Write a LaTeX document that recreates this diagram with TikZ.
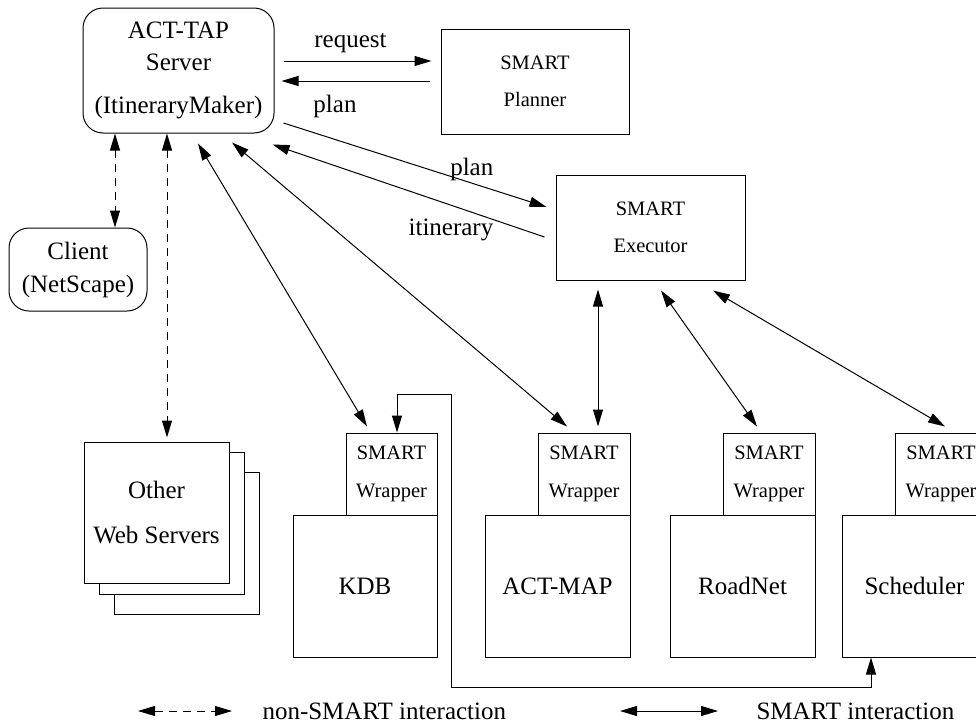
\documentclass[tikz,border=0pt]{standalone}
\usepackage{fontspec}
\setmainfont{Liberation Serif}
\usetikzlibrary{arrows.meta}

\newcommand{\bigsz}{\fontsize{25}{32}\selectfont}
\newcommand{\smallsz}{\fontsize{20.5}{37.5}\selectfont}

\begin{document}
\begin{tikzpicture}[x=1pt, y=-1pt, line width=1pt,
    >={Triangle[length=17pt,width=10pt]},
    every node/.style={font=\bigsz, align=center, inner sep=0pt},
    rbox/.style={draw, rounded corners=20pt},
    box/.style={draw, fill=white},
    wrapbox/.style={box, font=\smallsz, minimum width=92pt, minimum height=82pt},
    appbox/.style={box, minimum width=145pt, minimum height=142pt},
    smartlink/.style={<->},
    weblink/.style={<->, dash pattern=on 8pt off 6pt}]
\useasboundingbox (0,0) rectangle (976,723);
\clip (0,0) rectangle (976,723);

\node (server) [rbox, minimum width=191pt, minimum height=125pt] at (178.5,70.5) {ACT-TAP\\Server\\[11pt](ItineraryMaker)};
\node (planner) [box, font=\smallsz, minimum width=188pt, minimum height=105pt] at (535,81.5) {SMART\\Planner};
\node (executor) [box, font=\smallsz, minimum width=189pt, minimum height=105pt] at (650.5,227.5) {SMART\\Executor};
\node (client) [rbox, minimum width=138pt, minimum height=83pt] at (78,269.5) {Client\\[1pt](NetScape)};

\node (web3) [box, minimum width=145pt, minimum height=142pt] at (186.5,543) {};
\node (web2) [box, minimum width=145pt, minimum height=142pt] at (171.5,523) {};
\node (web1) [box, minimum width=145pt, minimum height=141pt] at (156.5,512.5) {Other\\[13pt]Web Servers};

\node (kdb) [appbox, minimum width=144pt] at (365,586) {KDB};
\node (kdbw) [wrapbox, minimum width=91pt] at (391.5,474) {SMART\\Wrapper};
\node (map) [appbox] at (557.5,586) {ACT-MAP};
\node (mapw) [wrapbox] at (584,474) {SMART\\Wrapper};
\node (road) [appbox] at (742.5,586) {RoadNet};
\node (roadw) [wrapbox] at (769,474) {SMART\\Wrapper};
\node (sched) [appbox] at (914.5,586) {Scheduler};
\node (schedw) [wrapbox] at (941,474) {SMART\\Wrapper};

\draw[->] ([xshift=9pt,yshift=9.5pt]server.east) -- node[xshift=-7pt,yshift=18pt]{request} ([xshift=-9pt,yshift=20.5pt]planner.west);
\draw[->] ([xshift=-11pt,yshift=0.5pt]planner.west) -- node[xshift=-20.5pt,yshift=-25pt]{plan} ([xshift=7pt,yshift=-10.5pt]server.east);
\draw[->] ([xshift=9pt,yshift=-52.5pt]server.east) -- node[pos=0.716,yshift=14pt]{plan} ([xshift=-9pt,yshift=20.5pt]executor.west);
\draw[->] ([xshift=-11pt,yshift=-9.5pt]executor.west) -- node[pos=0.344,yshift=-25pt]{itinerary} ([xshift=-2pt,yshift=-11pt]server.south east);

\draw[weblink] ([xshift=-63.5pt]server.south) -- ([xshift=37pt]client.north);
\draw[weblink] ([xshift=-11.5pt]server.south) -- ([xshift=10.5pt,yshift=4pt]web1.north);

\draw[smartlink] ([xshift=19.5pt,yshift=-10pt]server.south) -- ([xshift=-24.5pt,yshift=6pt]kdbw.north);
\draw[smartlink] ([xshift=53.5pt,yshift=-9pt]server.south) -- ([xshift=-17pt,yshift=6pt]mapw.north);
\draw[smartlink] ([xshift=-52.5pt,yshift=-9pt]executor.south) -- ([xshift=14pt,yshift=6pt]mapw.north);
\draw[smartlink] ([xshift=10.5pt,yshift=-10pt]executor.south) -- ([xshift=-12pt,yshift=6pt]roadw.north);
\draw[smartlink] ([xshift=62.5pt,yshift=-10pt]executor.south) -- ([xshift=4pt,yshift=6pt]schedw.north);

\coordinate (loop) at (451,687);
\draw[smartlink] ([xshift=5.5pt]kdbw.north) -- ++(0,-38) -| (loop) -| ([xshift=-43.5pt]sched.south);

\coordinate (leg1) at (138,711);
\coordinate (leg2) at (232,711);
\coordinate (leg3) at (620,711);
\coordinate (leg4) at (718,711);
\draw[weblink] (leg1) -- (leg2) node[anchor=west, xshift=30pt]{non-SMART interaction};
\draw[smartlink] (leg3) -- (leg4) node[anchor=west, xshift=38pt]{SMART interaction};
\end{tikzpicture}
\end{document}
